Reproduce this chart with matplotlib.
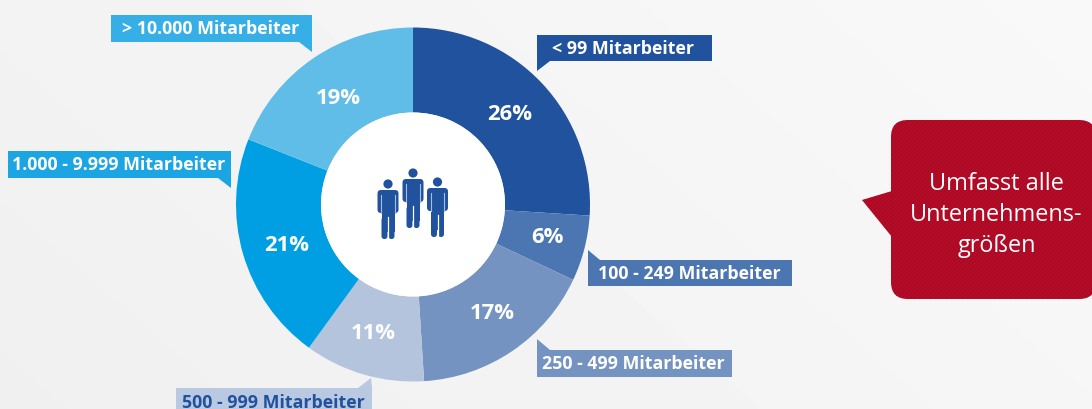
import numpy as np
import matplotlib
matplotlib.use('Agg')
import matplotlib.pyplot as plt
from matplotlib.patches import Circle, FancyBboxPatch, Polygon

plt.rcParams['font.family'] = ['Open Sans', 'DejaVu Sans']

categories = ['< 99 Mitarbeiter', '100 - 249 Mitarbeiter', '250 - 499 Mitarbeiter',
              '500 - 999 Mitarbeiter', '1.000 - 9.999 Mitarbeiter', '> 10.000 Mitarbeiter']
shares = [26, 6, 17, 11, 21, 19]
colors = ['#20529d', '#4c76b2', '#7493c1', '#b4c4dc', '#009fe3', '#5fbde8']
label_colors = ['#20529d', '#4c76b2', '#7493c1', '#b9c9e1', '#1ba6e3', '#35afe5']
label_text = ['white', 'white', 'white', '#20529d', 'white', 'white']
note = 'Umfasst alle\nUnternehmens-\ngrößen'

W, H = 1092, 410
BLUE = '#20529d'
RED = '#ba0a27'


def Y(py):
    # pixel row from the top -> axis y
    return H - py - 1


fig = plt.figure(figsize=(W / 100, H / 100), dpi=100)
ax = fig.add_axes([0, 0, 1, 1])

# soft grey background
xx, yy = np.meshgrid(np.linspace(0, 1, 200), np.linspace(0, 1, 80))
bg = 0.94 + 0.035 * (0.7 * xx + 0.3 * (1 - yy))
ax.imshow(bg, extent=(0, W, 0, H), cmap='gray', vmin=0, vmax=1, aspect='auto', zorder=0,
          interpolation='bicubic')

# donut
cx, cy, r_out, r_in = 413, Y(204.5), 177, 92
wedges, _ = ax.pie(shares, colors=colors, startangle=90, counterclock=False,
                   center=(cx, cy), radius=r_out, frame=False,
                   wedgeprops={'width': r_out - r_in, 'linewidth': 0, 'zorder': 2})
ax.add_patch(Circle((cx, cy), r_in, fc='white', ec='none', zorder=3))

# percent labels, placed by hand like in the original
pct_pos = [(510, 114), (547, 237), (492, 313), (373, 333), (287, 245), (338, 97)]
for s, (px, py) in zip(shares, pct_pos):
    ax.text(px, Y(py), f'{s}%', color='white', fontsize=15.8, fontweight='bold',
            ha='center', va='center', zorder=4)

# callout boxes: left, right, top, bottom, tail tip, tail base
boxes = [
    (537, 712, 35, 61, (537, 71), (550, 61)),
    (588, 792, 260, 286, (588, 250), (600, 260)),
    (537, 732, 350, 377, (537, 339), (550, 350)),
    (176, 372, 388, 412, (371, 378), (358, 388)),
    (8, 231, 151, 178, (231, 188), (218, 178)),
    (111, 312, 15, 42, (312, 52), (299, 42)),
]
for name, lc, tc, (x0, x1, y0, y1, tip, base) in zip(categories, label_colors, label_text, boxes):
    ax.add_patch(Polygon([(x0, Y(y0)), (x1, Y(y0)), (x1, Y(y1)), (x0, Y(y1))], fc=lc, ec='none', zorder=5))
    edge_x = x1 if tip[0] > (x0 + x1) / 2 else x0
    ax.add_patch(Polygon([(edge_x, Y(base[1])), (tip[0], Y(tip[1])), (base[0], Y(base[1]))],
                         fc=lc, ec='none', zorder=5))
    ax.text((x0 + x1) / 2 - 1, Y((y0 + y1) / 2 if y1 < 400 else 402), name, color=tc, fontsize=12.8,
            fontweight='bold', ha='center', va='center', zorder=6)


# people icon
def person(hx, hy, top):
    ax.add_patch(Circle((hx, Y(hy)), 4.6, fc=BLUE, ec='none', zorder=6))
    ax.add_patch(FancyBboxPatch((hx - 10.5, Y(top + 23)), 21, 23, boxstyle='round,pad=0,rounding_size=3.5',
                                fc=BLUE, ec='none', zorder=6))
    ax.add_patch(Polygon([(hx - 6.5, Y(top + 20)), (hx + 6.5, Y(top + 20)), (hx + 6.5, Y(top + 42)), (hx - 6.5, Y(top + 42))],
                         fc=BLUE, ec='none', zorder=6))
    for dx in (-3.5, 3.5):
        ax.add_patch(FancyBboxPatch((hx + dx - 3, Y(top + 49)), 6, 22, boxstyle='round,pad=0,rounding_size=2.8',
                                    fc=BLUE, ec='none', zorder=6))
    for dx in (-6.6, 6.6):
        ax.plot([hx + dx, hx + dx], [Y(top + 5), Y(top + 23)], color='#a9bcdc', lw=0.8, zorder=7)
    ax.plot([hx, hx], [Y(top + 27), Y(top + 49)], color='white', lw=0.9, zorder=7)


person(388, 184, 190)
person(413, 173, 179)
person(437.5, 182, 188)

# red bubble with fine diagonal stripes
bubble = FancyBboxPatch((891, Y(299)), 205, 179, boxstyle='round,pad=0,rounding_size=17',
                        fc=RED, ec='none', zorder=2)
ax.add_patch(bubble)
tail = Polygon([(892, Y(191)), (862, Y(200)), (892, Y(237))], fc=RED, ec='none', zorder=2)
ax.add_patch(tail)
for off in np.arange(700, 1300, 4):
    for clip in (bubble, tail):
        ln, = ax.plot([off, off + 200], [Y(300), Y(100)], color='#7c1226', lw=0.5, alpha=0.6, zorder=3)
        ln.set_clip_path(clip)
ax.text(996.5, Y(214), note, color='white', fontsize=16.9, ha='center', va='center',
        linespacing=1.38, zorder=4)

ax.set_xlim(0, W)
ax.set_ylim(0, H)
ax.set_aspect('auto')
ax.axis('off')
fig.savefig('out.png', dpi=100)
